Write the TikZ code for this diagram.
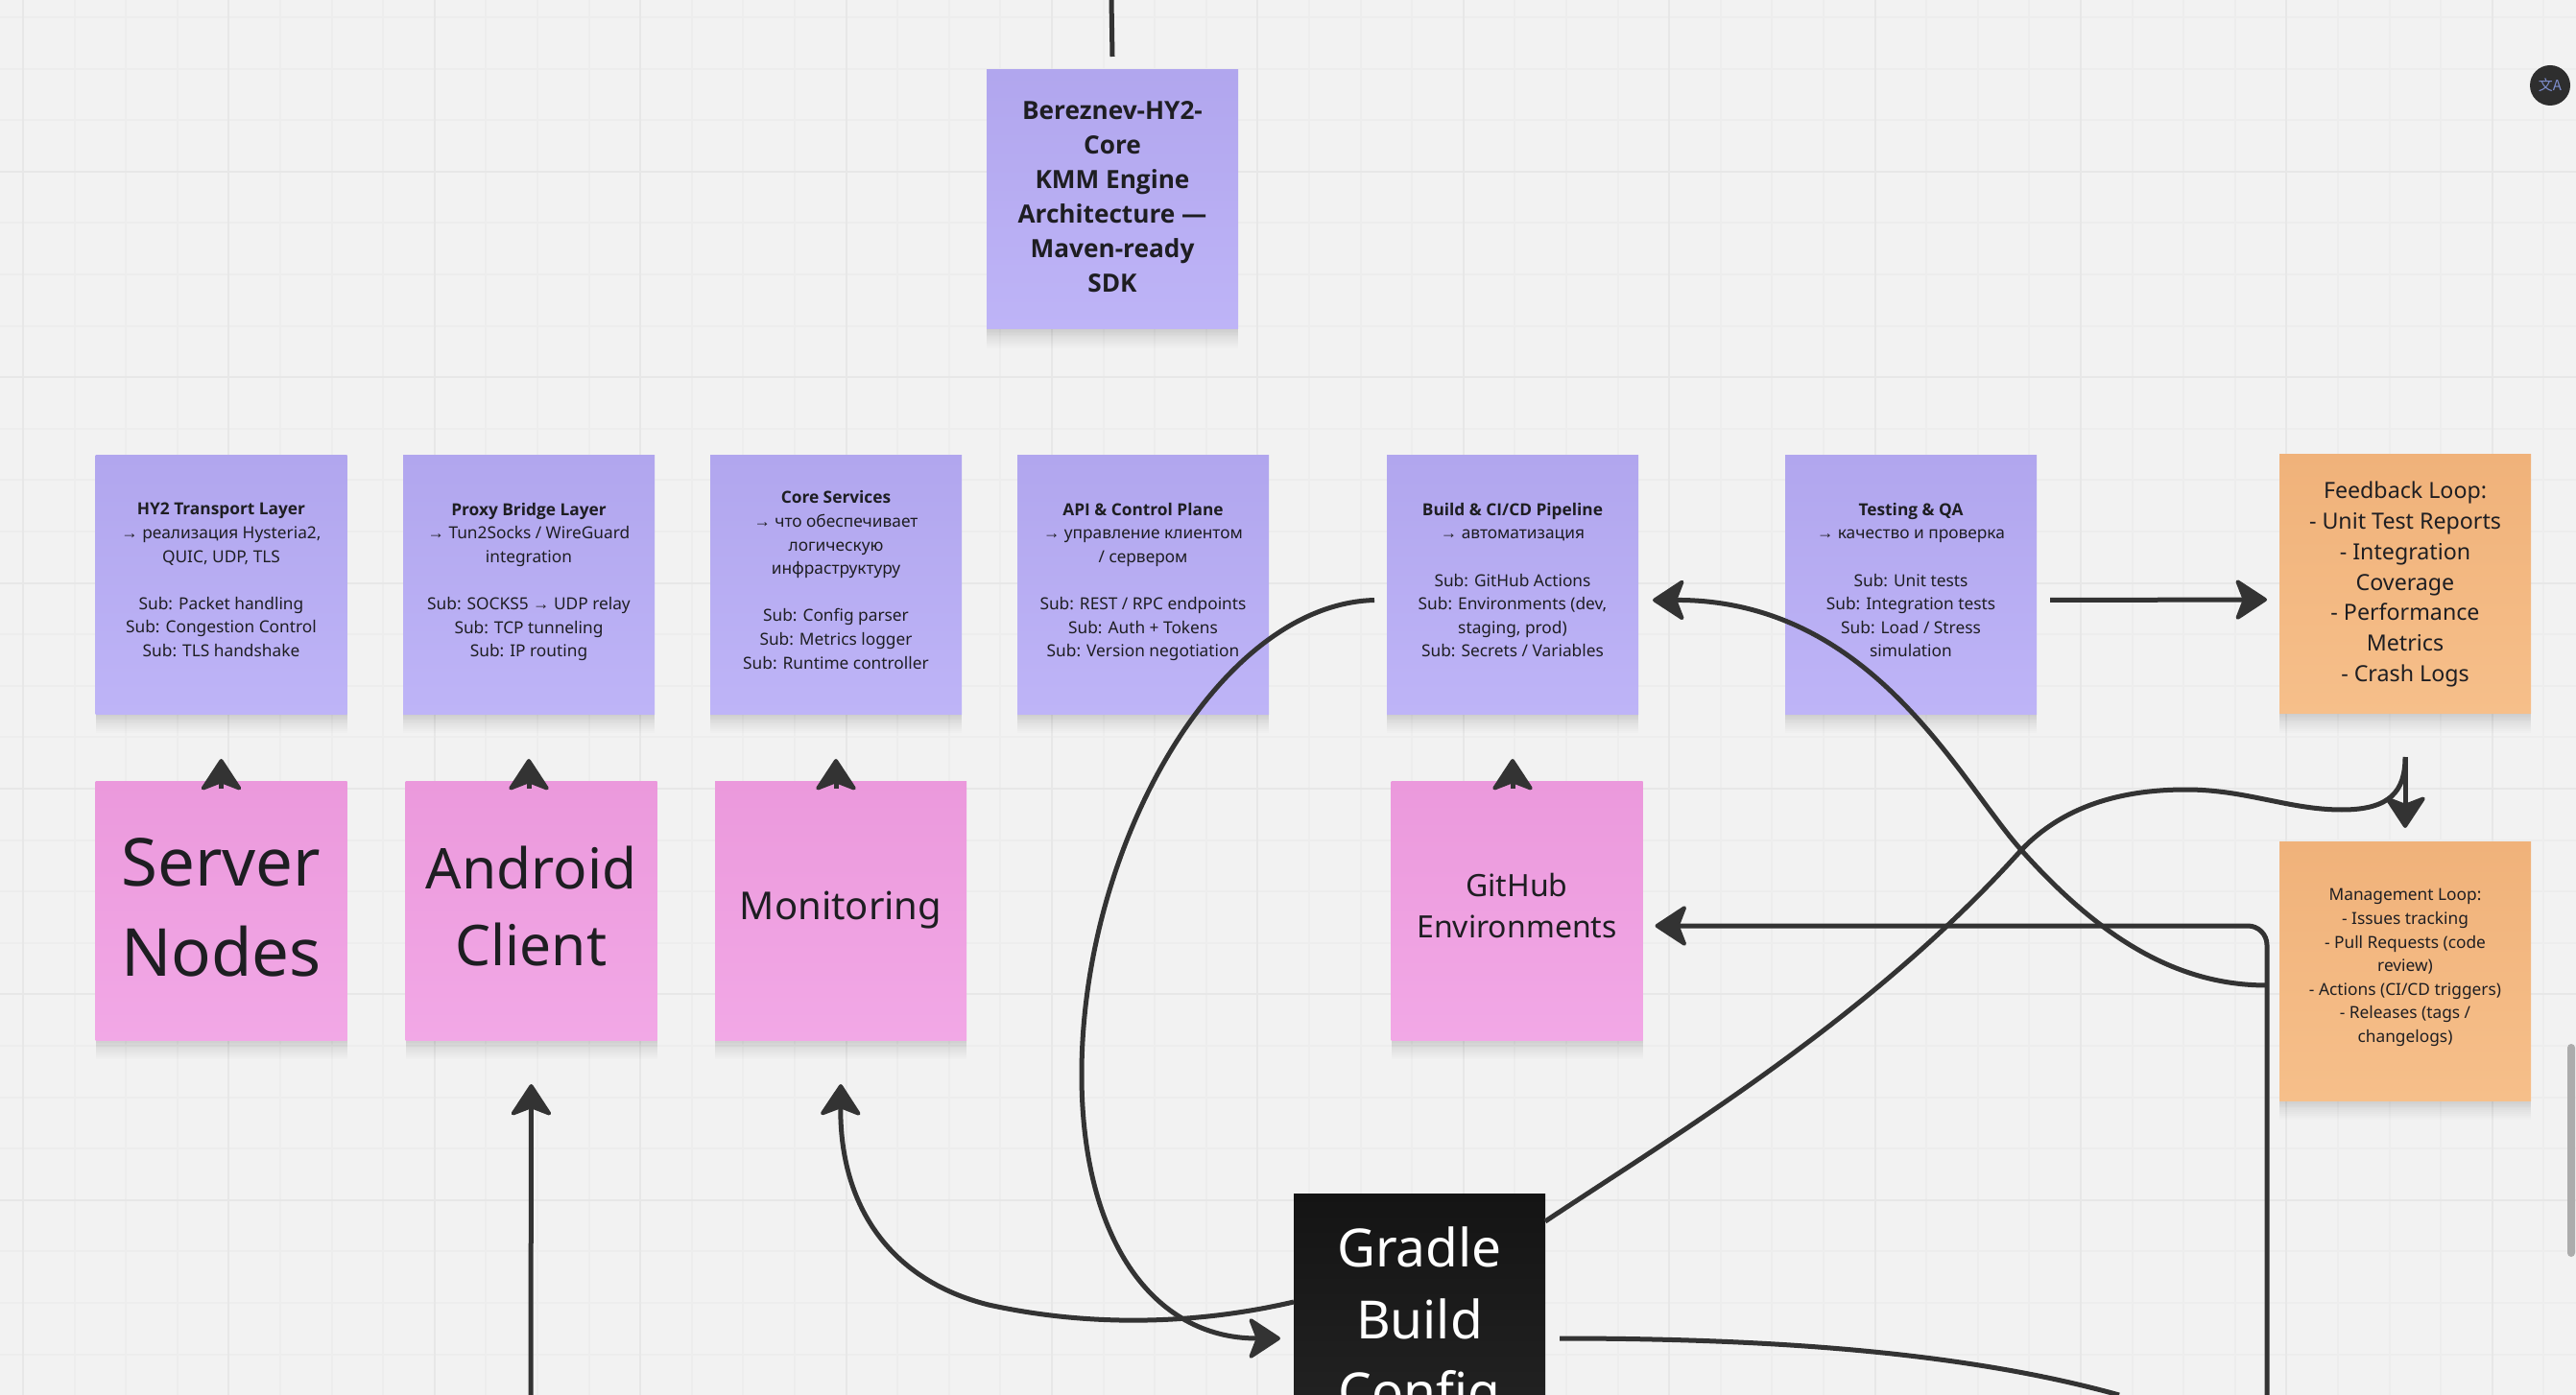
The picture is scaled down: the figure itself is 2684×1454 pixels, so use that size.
\documentclass[tikz,border=0pt]{standalone}
\usepackage{fontspec}
\setmainfont{Noto Sans}
\newfontfamily\opn{Open Sans}
\newfontfamily\cjk{Noto Sans CJK SC}
\newfontfamily\arwfont{Liberation Sans}
\newcommand{\arw}{{\arwfont →}}
\newcommand{\hd}[1]{{\opn\bfseries #1}}
\usetikzlibrary{arrows.meta}

\definecolor{bgcol}{HTML}{F2F2F2}
\definecolor{gridcol}{HTML}{EDEDED}
\definecolor{gridmaj}{HTML}{E7E7E7}
\definecolor{linecol}{HTML}{333333}
\definecolor{inkcol}{HTML}{1E1E22}
\definecolor{lilacA}{HTML}{B1A6EE}
\definecolor{lilacB}{HTML}{BEB4F7}
\definecolor{pinkA}{HTML}{EB99DC}
\definecolor{pinkB}{HTML}{F2A8E6}
\definecolor{orangeA}{HTML}{F0B27A}
\definecolor{orangeB}{HTML}{F6BF8A}
\definecolor{blackA}{HTML}{141414}
\definecolor{blackB}{HTML}{252525}
\definecolor{badgeink}{HTML}{7F8FD0}

\tikzset{
	softy/.style={preaction={fill=black,fill opacity=.012,transform canvas={yshift=-#1}}},
	note/.style={minimum width=131pt,minimum height=135pt,inner sep=0pt,outer sep=0pt,align=center,text=inkcol,
		softy=.7pt,softy=1.4pt,softy=2.1pt,softy=2.8pt,softy=3.5pt,softy=4.2pt,softy=5pt,softy=6pt,softy=7pt,softy=8pt,softy=9pt,softy=10pt},
	lay/.style={note,top color=lilacA,bottom color=lilacB},
	pnk/.style={note,top color=pinkA,bottom color=pinkB},
	org/.style={note,top color=orangeA,bottom color=orangeB},
	small/.style={font=\fontsize{8.65}{12.3}\selectfont,text depth=5pt},
	conn/.style={line width=2.5pt,draw=linecol,
		>={Stealth[length=18pt,width=23.5pt,inset=4.5pt,round,line width=2pt]}},
}

\begin{document}
\begin{tikzpicture}[x=.5pt,y=-.5pt]
	\useasboundingbox (0,0) rectangle (2684,1454);
	\clip (0,0) rectangle (2684,1454);
	\fill [bgcol] (0,0) rectangle (2684,1454);
	% board grid
	\foreach \k in {0,...,49} {
		\draw [gridcol,line width=1pt] ({24+53.6*\k},0) -- ({24+53.6*\k},1454);
	}
	\foreach \k in {0,...,27} {
		\draw [gridcol,line width=1pt] (0,{18+53.6*\k}) -- (2684,{18+53.6*\k});
	}
	\foreach \k in {0,...,12} {
		\draw [gridmaj,line width=1pt] ({24+214.4*\k},0) -- ({24+214.4*\k},1454);
	}
	\foreach \k in {0,...,6} {
		\draw [gridmaj,line width=1pt] (0,{178.8+214.4*\k}) -- (2684,{178.8+214.4*\k});
	}

	% top note
	\node [lay,text depth=3.4pt,font=\opn\bfseries\fontsize{13.1}{18}\selectfont] (title) at (1159,208)
		{Bereznev-HY2-\\Core\\KMM Engine\\Architecture —\\Maven-ready\\SDK};

	% layers
	\node [lay,small] (hy2) at (230.5,609.5)
		{\hd{HY2 Transport Layer}\\\arw{} реализация Hysteria2,\\QUIC, UDP, TLS\\[12.3pt]Sub: Packet handling\\Sub: Congestion Control\\Sub: TLS handshake};
	\node [lay,small] (proxy) at (551,609.5)
		{\hd{Proxy Bridge Layer}\\\arw{} Tun2Socks / WireGuard\\integration\\[12.3pt]Sub: SOCKS5 \arw{} UDP relay\\Sub: TCP tunneling\\Sub: IP routing};
	\node [lay,small] (core) at (871,609.5)
		{\hd{Core Services}\\\arw{} что обеспечивает\\логическую\\инфраструктуру\\[12.3pt]Sub: Config parser\\Sub: Metrics logger\\Sub: Runtime controller};
	\node [lay,small] (api) at (1191,609.5)
		{\hd{API \& Control Plane}\\\arw{} управление клиентом\\/ сервером\\[12.3pt]Sub: REST / RPC endpoints\\Sub: Auth + Tokens\\Sub: Version negotiation};
	\node [lay,small] (build) at (1576,609.5)
		{\hd{Build \& CI/CD Pipeline}\\\arw{} автоматизация\\[12.3pt]Sub: GitHub Actions\\Sub: Environments (dev,\\staging, prod)\\Sub: Secrets / Variables};
	\node [lay,small] (testing) at (1991,609.5)
		{\hd{Testing \& QA}\\\arw{} качество и проверка\\[12.3pt]Sub: Unit tests\\Sub: Integration tests\\Sub: Load / Stress\\simulation};

	% loops
	\node [org,font=\fontsize{11.6}{15.85}\selectfont] (feedback) at (2506,609)
		{Feedback Loop:\\- Unit Test Reports\\- Integration\\Coverage\\- Performance\\Metrics\\- Crash Logs};
	\node [org,small,text depth=5.5pt] (mgmt) at (2506,1012)
		{Management Loop:\\- Issues tracking\\- Pull Requests (code\\review)\\- Actions (CI/CD triggers)\\- Releases (tags /\\changelogs)};

	% clients
	\node [pnk,text depth=3.4pt,font=\fontsize{34.5}{47}\selectfont] (srv) at (230.5,949) {Server\\Nodes};
	\node [pnk,text depth=5pt,font=\fontsize{29.3}{40}\selectfont] (android) at (553.5,949) {Android\\Client};
	\node [pnk,font=\fontsize{20}{27}\selectfont] (mon) at (876,949) {Monitoring};
	\node [pnk,text depth=5pt,font=\fontsize{16}{21.8}\selectfont] (gh) at (1580.5,949) {GitHub\\Environments};

	% gradle note runs off the bottom
	\node [note,minimum height=137pt,top color=blackA,bottom color=blackB,text=white,font=\fontsize{27.5}{37.5}\selectfont] (gradle) at (1479,1381)
		{Gradle\\Build\\Config};

	% free ends
	\coordinate (topcut) at (1158,0);
	\coordinate (andcut) at (553,1454);
	\coordinate (loopcut) at (2362,1454);
	\coordinate (gradcut) at (2208,1454);
	\coordinate (ghin) at ([shift={(6.5pt,-8pt)}]gh.east);

	% connectors
	\draw [conn] (topcut) -- ([yshift=7pt]title.north);
	\draw [conn,->] ([yshift=-4pt]hy2.south |- srv.north) -- ++(0,-31);
	\draw [conn,->] ([yshift=-4pt]proxy.south |- android.north) -- ++(0,-31);
	\draw [conn,->] ([yshift=-4pt]core.south |- mon.north) -- ++(0,-31);
	\draw [conn,->] ([yshift=-4pt]build.south |- gh.north) -- ++(0,-31);
	\draw [conn,->] ([shift={(7pt,-8pt)}]testing.east) -- ([shift={(-6.5pt,-8pt)}]feedback.west);
	\draw [conn,->] ([yshift=-22.5pt]feedback.south) -- ([yshift=7pt]mgmt.north);
	\draw [conn,->] (andcut) -- ([yshift=-23pt]android.south);
	\draw [conn,->,rounded corners=10pt] (loopcut) |- (ghin);
	\draw [conn] ([yshift=54pt]gradle.east) .. controls (1750,1180) and (1950,1060) .. (2106,886)
		.. controls (2150,840) and (2210,823) .. (2278,823)
		.. controls (2340,823) and (2385,844) .. (2440,844)
		.. controls (2490,844) and (2506,825) .. ([yshift=-22.5pt]feedback.south);
	\draw [conn,->] ([shift={(-6.5pt,-8pt)}]build.west) .. controls (1270,630) and (1127,880) .. (1127,1120)
		.. controls (1127,1290) and (1200,1395) .. ([shift={(-7pt,-7pt)}]gradle.west);
	\draw [conn,->] ([yshift=12pt]gradle.west) .. controls (1240,1382) and (1130,1382) .. (1030,1360)
		.. controls (930,1335) and (875,1260) .. ([yshift=-23pt]mon.south);
	\draw [conn,->] ([shift={(-6.5pt,-7.5pt)}]mgmt.west) .. controls (2270,1027) and (2190,980) .. (2106,886)
		.. controls (2040,812) and (1950,625) .. ([shift={(7.5pt,-8pt)}]build.east);
	\draw [conn] ([shift={(7.5pt,-7pt)}]gradle.east) .. controls (1850,1395) and (2050,1410) .. (gradcut);

	% page widgets
	\node [circle,fill=black!82,minimum size=21pt,inner sep=0pt,text=badgeink,font=\cjk\fontsize{7.5}{8}\selectfont] (badge) at (2657,89) {文A};
	\fill [gray!65,rounded corners=2pt] (2675,1088) rectangle (2683,1310);
\end{tikzpicture}
\end{document}
